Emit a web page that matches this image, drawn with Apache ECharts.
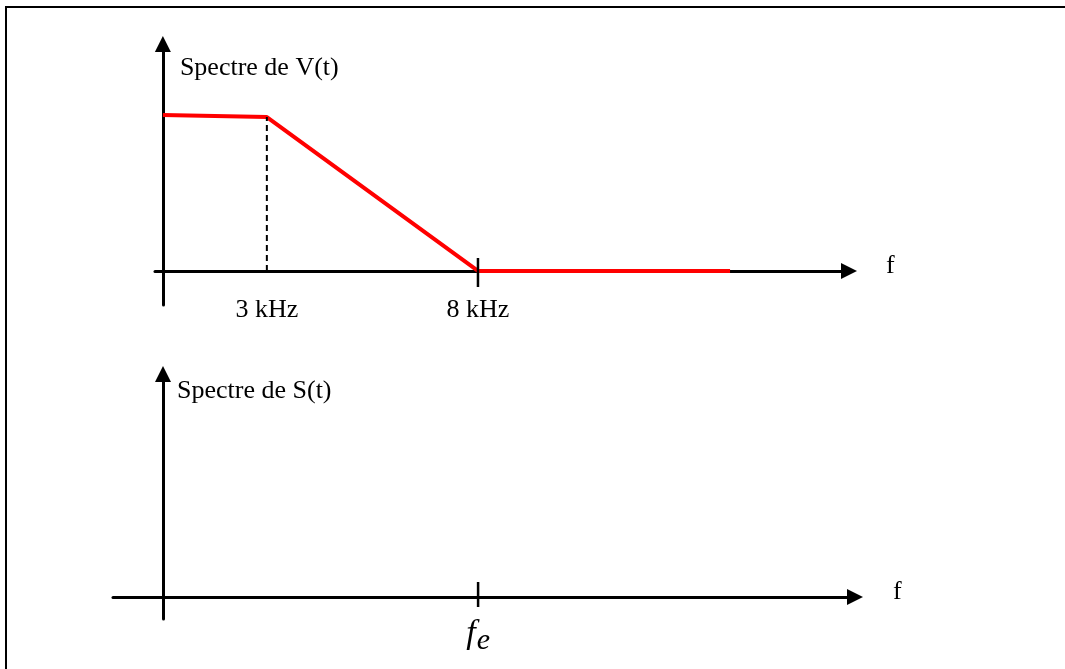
<!DOCTYPE html>
<html>
<head>
<meta charset="utf-8">
<script src="https://cdn.jsdelivr.net/npm/echarts@6/dist/echarts.min.js"></script>
<style>
  html, body { margin: 0; padding: 0; background: #fff; }
  #chart { width: 1065px; height: 669px; }
</style>
</head>
<body>
<div id="chart"></div>
<script>
// unités schématiques sur l'axe f (8 kHz = 8), amplitude normalisée
const spectrumX = [0, 2.64, 8, 14.4];
const spectrumY = [1, 0.987, 0, 0];
const cutoffX = [2.64, 2.64];
const cutoffY = [0, 0.987];
const topTickValues = [2.64, 8];
const topTickLabels = ['3 kHz', '8 kHz'];
const topMarkX = [8, 8];
const topMarkY = [0.083, -0.103];
const bottomTickValues = [8];
const bottomTickLabels = ['{f|f}{e|e}'];
const bottomMarkX = [8, 8];
const bottomMarkY = [0.096, -0.064];

const FONT = '"Liberation Serif", "Times New Roman", serif';

function zip(xs, ys) {
    return xs.map((x, i) => [x, ys[i]]);
}

function labelFor(values, labels) {
    return function (v) {
        let best = 0;
        values.forEach((t, i) => {
            if (Math.abs(t - v) < Math.abs(values[best] - v)) best = i;
        });
        return labels[best];
    };
}

const axisLine = {
    show: true,
    onZero: true,
    symbol: ['none', 'triangle'],
    symbolSize: [16, 16],
    lineStyle: { color: '#000', width: 3 }
};

const fNameStyle = {
    color: '#000', fontFamily: FONT, fontSize: 26,
    align: 'left', verticalAlign: 'bottom', lineHeight: 10
};

function initSpectreChart() {
    const chartDom = document.getElementById('chart');
    const chart = echarts.init(chartDom);

    const option = {
        animation: false,
        backgroundColor: '#fff',
        graphic: [{
            type: 'rect',
            shape: { x: 6, y: 7, width: 1200, height: 800 },
            style: { fill: 'none', stroke: '#000', lineWidth: 2 },
            silent: true
        }],
        grid: [
            { left: 155, right: 216, top: 44, bottom: 364, outerBoundsMode: 'none' },
            { left: 113, right: 210, top: 374, bottom: 50, outerBoundsMode: 'none' }
        ],
        xAxis: [
            {
                gridIndex: 0,
                type: 'value',
                min: -0.2,
                max: 17.42,
                splitLine: { show: false },
                axisTick: { show: false },
                axisLine: axisLine,
                axisLabel: {
                    customValues: topTickValues,
                    formatter: labelFor(topTickValues, topTickLabels),
                    margin: -8,
                    color: '#000',
                    fontFamily: FONT,
                    fontSize: 26
                },
                name: 'f',
                nameLocation: 'end',
                nameGap: 37,
                nameTextStyle: fNameStyle
            },
            {
                gridIndex: 1,
                type: 'value',
                min: -1.27,
                max: 17.57,
                splitLine: { show: false },
                axisTick: { show: false },
                axisLine: axisLine,
                axisLabel: {
                    customValues: bottomTickValues,
                    formatter: labelFor(bottomTickValues, bottomTickLabels),
                    margin: -2,
                    color: '#000',
                    rich: {
                        f: { fontFamily: FONT, fontStyle: 'italic', fontSize: 34, color: '#000', verticalAlign: 'bottom', padding: [0, 0, 5, 0] },
                        e: { fontFamily: FONT, fontStyle: 'italic', fontSize: 30, color: '#000', verticalAlign: 'bottom', padding: [0, 0, 0, 1] }
                    }
                },
                name: 'f',
                nameLocation: 'end',
                nameGap: 38,
                nameTextStyle: fNameStyle
            }
        ],
        yAxis: [
            {
                gridIndex: 0,
                type: 'value',
                min: -0.218,
                max: 1.455,
                splitLine: { show: false },
                axisTick: { show: false },
                axisLabel: { show: false },
                axisLine: axisLine,
                name: 'Spectre de V(t)',
                nameLocation: 'end',
                nameGap: -11,
                nameTextStyle: {
                    color: '#000', fontFamily: FONT, fontSize: 26,
                    align: 'left', verticalAlign: 'top', padding: [0, 0, 0, 17]
                }
            },
            {
                gridIndex: 1,
                type: 'value',
                min: -0.141,
                max: 1.429,
                splitLine: { show: false },
                axisTick: { show: false },
                axisLabel: { show: false },
                axisLine: axisLine,
                name: 'Spectre de S(t)',
                nameLocation: 'end',
                nameGap: -4,
                nameTextStyle: {
                    color: '#000', fontFamily: FONT, fontSize: 26,
                    align: 'left', verticalAlign: 'top', padding: [0, 0, 0, 14]
                }
            }
        ],
        series: [
            {
                name: 'Spectre V',
                type: 'line',
                xAxisIndex: 0,
                yAxisIndex: 0,
                data: zip(spectrumX, spectrumY),
                symbol: 'none',
                lineStyle: { color: '#ff0000', width: 4 },
                z: 3
            },
            {
                name: 'coupure',
                type: 'line',
                xAxisIndex: 0,
                yAxisIndex: 0,
                data: zip(cutoffX, cutoffY),
                symbol: 'none',
                lineStyle: { color: '#000', width: 2, type: [6, 4] },
                z: 3
            },
            {
                name: 'graduation 8 kHz',
                type: 'line',
                xAxisIndex: 0,
                yAxisIndex: 0,
                data: zip(topMarkX, topMarkY),
                symbol: 'none',
                lineStyle: { color: '#000', width: 2.5 },
                z: 4
            },
            {
                name: 'graduation fe',
                type: 'line',
                xAxisIndex: 1,
                yAxisIndex: 1,
                data: zip(bottomMarkX, bottomMarkY),
                symbol: 'none',
                lineStyle: { color: '#000', width: 2.5 },
                z: 4
            }
        ]
    };

    chart.setOption(option);
    window.addEventListener('resize', () => chart.resize());
}

document.addEventListener('DOMContentLoaded', function () {
    if (typeof echarts === 'undefined') {
        console.error('ECharts non chargé');
        return;
    }
    initSpectreChart();
});
</script>
</body>
</html>
